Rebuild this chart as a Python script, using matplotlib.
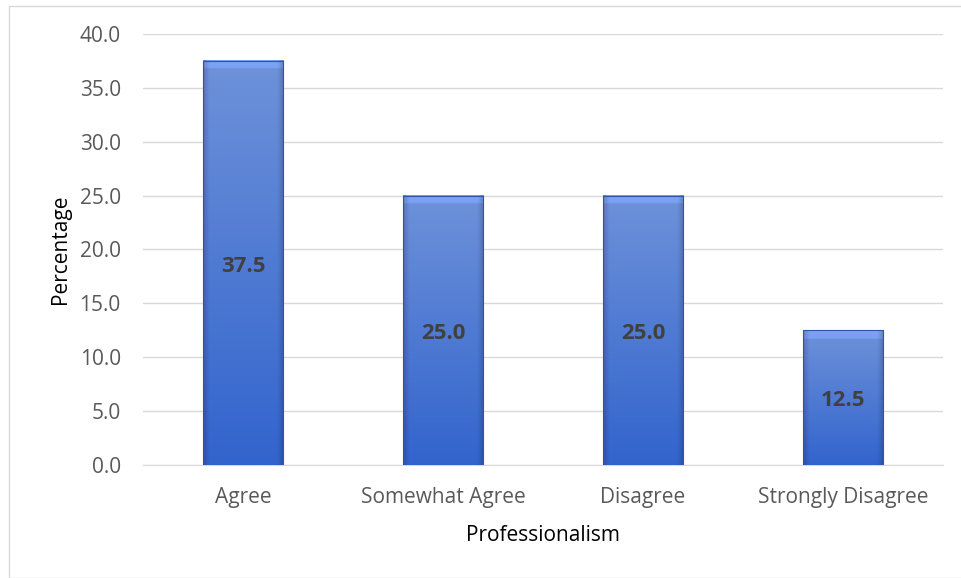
import numpy as np
import matplotlib.pyplot as plt
from matplotlib.patches import Rectangle

plt.rcParams['font.family'] = ['Open Sans', 'DejaVu Sans']

# 数据
categories = ['Agree', 'Somewhat Agree', 'Disagree', 'Strongly Disagree']
values = [37.5, 25.0, 25.0, 12.5]
yticks = [0, 5, 10, 15, 20, 25, 30, 35, 40]

fig = plt.figure(figsize=(9.61, 5.78), dpi=100)
ax = fig.add_axes([0.1488, 0.1955, 0.8325, 0.7457])

# 外框
fig.patches.append(Rectangle((9 / 961, 0), 1, 1 - 6 / 578, transform=fig.transFigure,
                             fill=False, edgecolor='#d9d9d9', linewidth=1.0))

x = np.arange(len(categories))
width = 0.4
ax.set_xlim(-0.5, len(categories) - 0.5)
ax.set_ylim(0, 40)

# 渐变色条形
top_c = np.array([110, 146, 218]) / 255
bot_c = np.array([50, 100, 205]) / 255
ny, nx = 200, 60
t = np.linspace(0, 1, ny)[:, None]   # 0 = top
col = top_c * (1 - t[..., None]) + bot_c * t[..., None]
col = np.repeat(col, nx, axis=1)
sx = np.linspace(-1, 1, nx)
side = 1 - 0.18 * np.clip((np.abs(sx) - 0.85) / 0.15, 0, 1)
col = col * side[None, :, None]

for xi, v in zip(x, values):
    # 阴影
    ax.add_patch(Rectangle((xi - width / 2 + 0.006, -0.25), width, v, facecolor='#b8b8b8',
                           edgecolor='none', alpha=0.5, zorder=2))
    img = col.copy()
    # 顶部斜面高光
    h_px = v / 40 * 431
    nb = max(2, int(ny * 9 / h_px))
    img[:nb] = np.clip(img[:nb] * 1.12, 0, 1)
    ax.imshow(img, extent=(xi - width / 2, xi + width / 2, 0, v), aspect='auto',
              interpolation='bilinear', zorder=3)
    ax.add_patch(Rectangle((xi - width / 2, 0), width, v, fill=False,
                           edgecolor='#2e55a3', linewidth=0.8, zorder=4))
    ax.text(xi, v / 2 - 0.3, f'{v:.1f}', ha='center', va='center', fontsize=16,
            fontweight='bold', color='#404040', zorder=5)

ax.set_xlim(-0.5, len(categories) - 0.5)
ax.set_ylim(0, 40)
ax.set_yticks(yticks)
ax.set_yticklabels([f'{v:.1f}' for v in yticks])
ax.set_xticks(x)
ax.set_xticklabels(categories)
ax.tick_params(axis='both', length=0, labelsize=15, labelcolor='#595959')
ax.tick_params(axis='y', pad=16)
ax.tick_params(axis='x', pad=16)
ax.grid(axis='y', color='#d9d9d9', linewidth=1.0)
ax.set_axisbelow(True)
for s in ['top', 'right', 'left']:
    ax.spines[s].set_visible(False)
ax.spines['bottom'].set_color('#d9d9d9')

ax.set_ylabel('Percentage', fontsize=15, color='#000000', labelpad=6)
ax.set_xlabel('Professionalism', fontsize=15, color='#000000', labelpad=12)

fig.savefig('out.png', dpi=100)
